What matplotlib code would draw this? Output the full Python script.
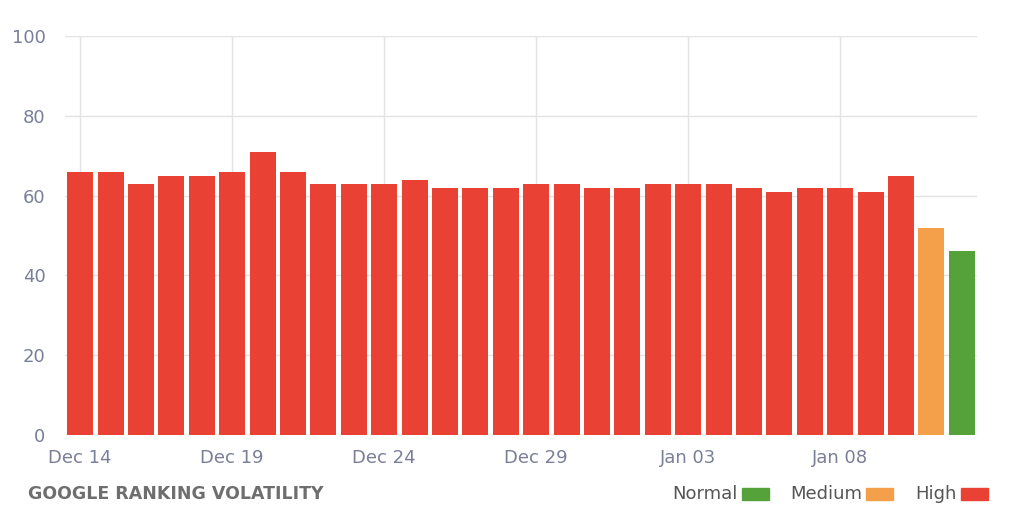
import matplotlib
matplotlib.use("Agg")
import matplotlib.pyplot as plt
from matplotlib.patches import Rectangle

dates = ["Dec 14","Dec 15","Dec 16","Dec 17","Dec 18","Dec 19","Dec 20","Dec 21","Dec 22","Dec 23",
         "Dec 24","Dec 25","Dec 26","Dec 27","Dec 28","Dec 29","Dec 30","Dec 31","Jan 01","Jan 02",
         "Jan 03","Jan 04","Jan 05","Jan 06","Jan 07","Jan 08","Jan 09","Jan 10","Jan 11","Jan 12"]
values = [66,66,63,65,65,66,71,66,63,63,63,64,62,62,62,63,63,62,62,63,63,63,62,61,62,62,61,65,52,46]
tick_labels = ["Dec 14","Dec 19","Dec 24","Dec 29","Jan 03","Jan 08"]
levels = ["Normal","Medium","High"]

RED, ORANGE, GREEN = "#e94235", "#f4a04a", "#55a23b"
def col(v):
    if v >= 60: return RED
    if v >= 50: return ORANGE
    return GREEN

fig = plt.figure(figsize=(10.24,5.25), dpi=100)
ax = fig.add_axes([65/1024, 1-435/525, 912/1024, 399/525])
x = list(range(len(values)))
ax.bar(x, values, width=0.85, color=[col(v) for v in values], zorder=2)
ax.set_xlim(-0.5, len(values)-0.5)
ax.set_ylim(0, 100)
ax.set_yticks([0,20,40,60,80,100])
ticks = [dates.index(t) for t in tick_labels]
ax.set_xticks(ticks)
ax.set_xticklabels(tick_labels)
ax.grid(True, color="#e3e3e3", lw=1, zorder=0)
for s in ax.spines.values(): s.set_visible(False)
ax.tick_params(length=0, labelsize=13, colors="#7a7f99", pad=10)
ax.tick_params(axis="y", pad=14)
fig.text(28/1024, 1-494/525, "GOOGLE RANKING VOLATILITY", fontsize=12.5, fontweight="bold",
         color="#6e6e6e", va="center")
pos = [(672, GREEN), (790, ORANGE), (915, RED)]
for (lx, c), name in zip(pos, levels):
    fig.text(lx/1024, 1-494/525, name, fontsize=13, color="#555", va="center")
for (lx, c), off in zip(pos, [70, 76, 46]):
    fig.patches.append(Rectangle(((lx+off)/1024, 1-500/525), 27/1024, 12/525,
                                 transform=fig.transFigure, color=c))
fig.savefig("out.png", dpi=100)
